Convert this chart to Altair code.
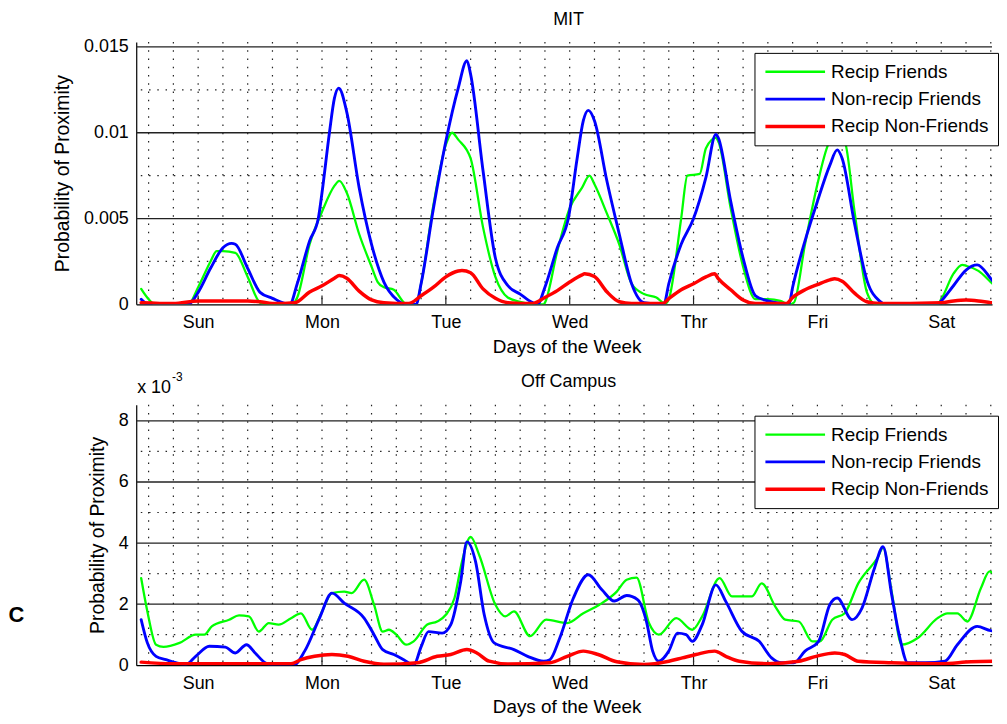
import altair as alt
import pandas as pd

FONT = "Liberation Sans"
DAYS = ["Sun", "Mon", "Tue", "Wed", "Thr", "Fri", "Sat"]
DAY_CENTERS = [0.5, 1.5, 2.5, 3.5, 4.5, 5.5, 6.5]
GRID_DAYS = [0.1, 0.3, 0.5, 0.7, 0.9, 1.1, 1.3, 1.5, 1.7, 1.9, 2.1, 2.3, 2.5, 2.7, 2.9,
             3.1, 3.3, 3.5, 3.7, 3.9, 4.1, 4.3, 4.5, 4.7, 4.9, 5.1, 5.3, 5.5, 5.7, 5.9,
             6.1, 6.3, 6.5, 6.7, 6.9]
SERIES = ["Recip Friends", "Non-recip Friends", "Recip Non-Friends"]
COLORS = ["#00ff00", "#0000ff", "#ff0000"]
WIDTHS = [2.3, 3.5, 3.1]

MIT_MAJOR = [0.005, 0.01, 0.015]
MIT_MINOR = [0.0025, 0.0075, 0.0125]
MIT_TICKS = [0, 0.005, 0.01, 0.015]
OFF_MAJOR = [2, 4, 6, 8]
OFF_MINOR = [1, 3, 5, 7]
OFF_TICKS = [0, 2, 4, 6, 8]

# MIT panel, values in units of 1e-3
MIT_GREEN_DAY = [0.04, 0.1, 0.15, 0.42, 0.5, 0.6, 0.65, 0.7, 0.8, 0.9, 1.0, 1.05, 1.25, 1.3, 1.4,
                 1.5, 1.6, 1.64, 1.7, 1.8, 1.9, 1.95, 2.0, 2.08, 2.15, 2.18, 2.26, 2.3, 2.4, 2.5,
                 2.55, 2.6, 2.7, 2.8, 2.9, 3.0, 3.1, 3.2, 3.29, 3.3, 3.4, 3.5, 3.6, 3.66, 3.7,
                 3.8, 3.9, 4.0, 4.1, 4.2, 4.27, 4.3, 4.4, 4.45, 4.55, 4.6, 4.68, 4.7, 4.8, 4.9,
                 5.0, 5.1, 5.2, 5.27, 5.31, 5.4, 5.5, 5.6, 5.66, 5.72, 5.8, 5.9, 5.97, 6.47, 6.5,
                 6.6, 6.67, 6.7, 6.8, 6.9, 7.0]
MIT_GREEN_VAL = [0.9, 0.3, 0.0, 0.0, 1.0, 2.5, 3.1, 3.1, 3.0, 1.6, 0.1, 0.0, 0.0, 0.4, 3.5,
                 5.4, 6.9, 7.2, 6.5, 4.1, 2.2, 1.3, 1.0, 0.85, 0.2, 0.0, 0.0, 1.2, 5.8, 9.3,
                 10.0, 9.6, 8.5, 4.5, 1.6, 0.4, 0.15, 0.0, 0.0, 0.1, 3.1, 5.6, 6.8, 7.5, 7.0,
                 5.3, 3.5, 1.2, 0.6, 0.4, 0.05, 0.3, 5.0, 7.5, 7.6, 9.1, 9.7, 9.5, 5.6, 2.2,
                 0.3, 0.3, 0.2, 0.0, 0.1, 3.5, 7.0, 9.5, 9.8, 9.5, 5.4, 0.7, 0.0, 0.0, 0.3,
                 1.8, 2.3, 2.25, 1.95, 1.3, 0.6]
MIT_BLUE_DAY = [0.04, 0.1, 0.42, 0.5, 0.6, 0.7, 0.77, 0.8, 0.9, 1.0, 1.1, 1.2, 1.24, 1.3, 1.4,
                1.47, 1.5, 1.56, 1.6, 1.635, 1.7, 1.8, 1.9, 2.0, 2.1, 2.18, 2.26, 2.3, 2.4, 2.5,
                2.6, 2.67, 2.7, 2.8, 2.9, 3.0, 3.1, 3.2, 3.24, 3.3, 3.4, 3.49, 3.56, 3.61, 3.65,
                3.7, 3.8, 3.9, 4.0, 4.1, 4.26, 4.3, 4.4, 4.5, 4.6, 4.68, 4.7, 4.8, 4.9, 5.0,
                5.1, 5.2, 5.27, 5.3, 5.4, 5.5, 5.6, 5.66, 5.7, 5.8, 5.9, 6.0, 6.05, 6.47, 6.5,
                6.6, 6.7, 6.79, 6.9, 7.0]
MIT_BLUE_VAL = [0.3, 0.0, 0.0, 0.7, 2.1, 3.3, 3.55, 3.5, 2.1, 0.7, 0.35, 0.05, 0.0, 1.2, 3.7,
                5.0, 6.5, 10.0, 12.0, 12.6, 11.2, 6.8, 3.5, 1.3, 0.3, 0.0, 0.0, 1.2, 5.6, 9.5,
                12.6, 14.2, 13.4, 7.8, 2.7, 1.1, 0.6, 0.1, 0.0, 1.0, 3.3, 5.05, 8.5, 10.7, 11.3,
                10.7, 7.2, 4.1, 1.2, 0.1, 0.0, 1.2, 3.5, 5.0, 7.4, 9.9, 9.7, 6.0, 2.7, 0.5,
                0.2, 0.05, 0.0, 1.0, 3.7, 6.0, 8.1, 9.0, 8.5, 4.7, 1.4, 0.2, 0.0, 0.0, 0.2,
                1.1, 2.0, 2.3, 1.5, 0.5]
MIT_RED_DAY = [0.04, 0.3, 0.5, 0.9, 1.0, 1.1, 1.28, 1.4, 1.5, 1.6, 1.64, 1.7, 1.8, 1.9, 2.0,
               2.2, 2.3, 2.4, 2.5, 2.6, 2.63, 2.7, 2.8, 2.9, 3.0, 3.2, 3.3, 3.4, 3.5, 3.6,
               3.62, 3.7, 3.8, 3.9, 4.0, 4.25, 4.3, 4.4, 4.5, 4.6, 4.67, 4.7, 4.8, 4.9, 5.0,
               5.25, 5.3, 5.4, 5.5, 5.6, 5.64, 5.7, 5.8, 5.9, 6.0, 6.5, 6.6, 6.7, 6.8, 6.9, 7.0]
MIT_RED_VAL = [0.1, 0.05, 0.2, 0.2, 0.15, 0.05, 0.1, 0.72, 1.08, 1.52, 1.68, 1.52, 0.77, 0.26, 0.1,
               0.05, 0.5, 1.0, 1.6, 1.94, 1.97, 1.84, 0.9, 0.35, 0.1, 0.05, 0.4, 0.8, 1.3, 1.72,
               1.78, 1.62, 0.73, 0.15, 0.05, 0.05, 0.33, 0.85, 1.2, 1.6, 1.78, 1.5, 0.85, 0.25, 0.05,
               0.05, 0.4, 0.85, 1.15, 1.43, 1.49, 1.35, 0.65, 0.15, 0.05, 0.1, 0.2, 0.25, 0.2, 0.1, 0.05]

# Off Campus panel, values in units of 1e-3
OFF_GREEN_DAY = [0.04, 0.09, 0.16, 0.22, 0.35, 0.48, 0.55, 0.61, 0.75, 0.83, 0.91, 0.99, 1.07, 1.15,
                 1.25, 1.33, 1.42, 1.5, 1.58, 1.68, 1.74, 1.84, 1.92, 1.99, 2.04, 2.1, 2.18, 2.24,
                 2.35, 2.43, 2.5, 2.57, 2.63, 2.7, 2.77, 2.9, 2.98, 3.05, 3.18, 3.31, 3.48, 3.61,
                 3.74, 3.88, 3.96, 4.04, 4.14, 4.22, 4.36, 4.49, 4.57, 4.71, 4.81, 4.97, 5.05, 5.16,
                 5.24, 5.35, 5.46, 5.52, 5.62, 5.72, 5.83, 5.99, 6.03, 6.1, 6.18, 6.31, 6.47, 6.55,
                 6.63, 6.71, 6.82, 6.89, 6.95, 7.0]
OFF_GREEN_VAL = [2.85, 1.76, 0.67, 0.6, 0.73, 1.0, 1.0, 1.27, 1.49, 1.63, 1.6, 1.1, 1.38, 1.33,
                 1.54, 1.7, 1.16, 1.76, 2.36, 2.41, 2.36, 2.8, 1.98, 1.1, 1.16, 1.0, 0.67, 0.78,
                 1.33, 1.43, 1.65, 2.2, 3.39, 4.2, 3.6, 1.98, 1.6, 1.76, 0.95, 1.49, 1.38, 1.7,
                 1.98, 2.41, 2.8, 2.87, 1.38, 1.0, 1.54, 1.16, 1.6, 2.85, 2.25, 2.25, 2.68, 1.92,
                 1.49, 1.43, 0.78, 0.78, 1.49, 1.7, 2.68, 3.55, 3.85, 2.4, 0.67, 0.89, 1.54, 1.7,
                 1.7, 1.43, 2.52, 3.07, 2.74, 1.9]
OFF_BLUE_DAY = [0.04, 0.09, 0.16, 0.24, 0.32, 0.4, 0.48, 0.59, 0.72, 0.8, 0.89, 0.96, 1.04, 1.1,
                1.27, 1.36, 1.48, 1.58, 1.68, 1.84, 1.92, 1.99, 2.08, 2.16, 2.24, 2.3, 2.36, 2.47,
                2.54, 2.62, 2.67, 2.74, 2.81, 2.89, 3.05, 3.16, 3.29, 3.34, 3.42, 3.53, 3.65, 3.76,
                3.86, 3.96, 4.05, 4.12, 4.17, 4.22, 4.3, 4.37, 4.44, 4.49, 4.57, 4.68, 4.76, 4.89,
                5.03, 5.13, 5.21, 5.31, 5.4, 5.51, 5.6, 5.66, 5.78, 5.86, 5.96, 6.03, 6.1, 6.16,
                6.23, 6.37, 6.53, 6.63, 6.79, 6.9, 7.0]
OFF_BLUE_VAL = [1.49, 0.73, 0.29, 0.18, 0.08, 0.02, 0.29, 0.62, 0.59, 0.4, 0.67, 0.4, 0.08, 0.0,
                0.0, 0.46, 1.54, 2.36, 2.03, 1.54, 1.0, 0.51, 0.35, 0.18, 0.0, 0.6, 1.1, 1.05,
                1.33, 2.74, 4.04, 3.39, 1.65, 0.73, 0.51, 0.29, 0.13, 0.18, 0.89, 2.2, 2.96, 2.47,
                2.1, 2.28, 2.14, 1.43, 0.46, 0.13, 0.46, 1.05, 1.0, 0.78, 1.33, 2.63, 2.09, 1.11,
                0.78, 0.24, 0.08, 0.08, 0.46, 0.78, 1.98, 2.2, 1.49, 1.87, 3.17, 3.88, 2.3, 1.0,
                0.08, 0.08, 0.13, 0.67, 1.27, 1.13, 1.1]
OFF_RED_DAY = [0.04, 0.3, 1.25, 1.33, 1.44, 1.58, 1.71, 1.84, 2.0, 2.27, 2.43, 2.54, 2.67, 2.75,
               2.85, 3.0, 3.34, 3.48, 3.61, 3.73, 3.88, 4.1, 4.3, 4.41, 4.52, 4.67, 4.76, 4.87,
               5.1, 5.35, 5.49, 5.64, 5.72, 5.83, 6.1, 6.5, 6.74, 7.0]
OFF_RED_VAL = [0.1, 0.05, 0.05, 0.18, 0.29, 0.35, 0.29, 0.13, 0.03, 0.08, 0.29, 0.35, 0.51, 0.4,
               0.13, 0.04, 0.08, 0.29, 0.46, 0.35, 0.11, 0.02, 0.13, 0.24, 0.35, 0.46, 0.29, 0.13,
               0.05, 0.13, 0.29, 0.4, 0.35, 0.13, 0.08, 0.05, 0.11, 0.13]

TITLES = ["MIT", "Off Campus"]
X_TITLE = "Days of the Week"
Y_TITLE = "Probability of Proximity"
EXP_BASE = ["x 10"]
EXP_POWER = ["-3"]
PANEL_LETTER = ["C"]

W = 861
H_TOP = 264
H_BOT = 262
X_DOMAIN = [0, 861 / 124.6]


def series_frame(days, vals, name, factor):
    return pd.DataFrame({"day": days, "value": [v * factor for v in vals], "series": name})


label_expr = "[" + ",".join("'%s'" % d for d in DAYS) + "][floor(datum.value)]"


def text_layer(texts, x, y, size, weight="normal", align="center"):
    return alt.Chart(pd.DataFrame({"t": texts})).mark_text(
        align=align, baseline="middle", fontSize=size, fontWeight=weight, font=FONT,
        color="black").encode(text="t:N", x=alt.value(x), y=alt.value(y))


def panel(frames, y_domain, y_ticks, y_major, y_minor, y_format, height, title, extra=None):
    xs = alt.Scale(domain=X_DOMAIN, nice=False, zero=False)
    ys = alt.Scale(domain=y_domain, nice=False, zero=False)
    x_axis = alt.Axis(values=DAY_CENTERS, labelExpr=label_expr, ticks=False, grid=False,
                      title=X_TITLE, labelPadding=9, titlePadding=6, titleFontSize=19,
                      titleX=433)
    y_axis = alt.Axis(values=y_ticks, format=y_format, ticks=False, grid=False,
                      title=Y_TITLE, labelPadding=8, titlePadding=11, titleFontSize=19.5)
    X = alt.X("day:Q", scale=xs, axis=x_axis)
    Y = alt.Y("value:Q", scale=ys, axis=y_axis)

    vgrid = alt.Chart(pd.DataFrame({"day": GRID_DAYS})).mark_rule(
        color="#222222", strokeWidth=1.2, strokeDash=[1.5, 6.8]).encode(x=X)
    hminor = alt.Chart(pd.DataFrame({"value": y_minor})).mark_rule(
        color="#222222", strokeWidth=1.2, strokeDash=[1.5, 6.8]).encode(y=Y)
    hmajor = alt.Chart(pd.DataFrame({"value": y_major})).mark_rule(
        color="#222222", strokeWidth=1.3).encode(y=Y)
    xticks = alt.Chart(pd.DataFrame({"day": DAY_CENTERS})).mark_rule(
        color="#222222", strokeWidth=1.2).encode(
        x=X, y=alt.value(height), y2=alt.value(height - 9))

    layers = [vgrid, hminor, hmajor, xticks]
    for i, df in enumerate(frames):
        legend = None
        if i == 0:
            legend = alt.Legend(title=None, orient="none", legendX=622, legendY=11,
                                fillColor="white", strokeColor="black", padding=9,
                                symbolType="stroke", symbolSize=3600, symbolStrokeWidth=3,
                                labelFontSize=19, labelFont=FONT, labelColor="black",
                                labelOffset=4, rowPadding=7.5, clipHeight=20,
                                cornerRadius=0)
        line = alt.Chart(df).mark_line(clip=True, strokeJoin="round", strokeCap="round",
                                       interpolate="monotone").encode(
            x=X, y=Y,
            color=alt.Color("series:N", scale=alt.Scale(domain=SERIES, range=COLORS),
                            legend=legend),
            strokeWidth=alt.StrokeWidth("series:N",
                                        scale=alt.Scale(domain=SERIES, range=WIDTHS),
                                        legend=None),
            order=alt.Order("day:Q"),
        )
        layers.append(line)
    layers.append(text_layer([title], 435, -22.5, 18))
    if extra:
        layers.extend(extra)
    return alt.layer(*layers).properties(width=W, height=height)


mit_frames = [
    series_frame(MIT_GREEN_DAY, MIT_GREEN_VAL, SERIES[0], 1e-3),
    series_frame(MIT_BLUE_DAY, MIT_BLUE_VAL, SERIES[1], 1e-3),
    series_frame(MIT_RED_DAY, MIT_RED_VAL, SERIES[2], 1e-3),
]
off_frames = [
    series_frame(OFF_GREEN_DAY, OFF_GREEN_VAL, SERIES[0], 1.0),
    series_frame(OFF_BLUE_DAY, OFF_BLUE_VAL, SERIES[1], 1.0),
    series_frame(OFF_RED_DAY, OFF_RED_VAL, SERIES[2], 1.0),
]

extras = [
    text_layer(EXP_BASE, 1, -17, 18, align="left"),
    text_layer(EXP_POWER, 36, -28, 12, align="left"),
    text_layer(PANEL_LETTER, -120.5, 212, 22, weight="bold"),
]

top = panel(mit_frames, [0, 0.01529], MIT_TICKS, MIT_MAJOR, MIT_MINOR, "~g", H_TOP, TITLES[0])
bottom = panel(off_frames, [0, 8.53], OFF_TICKS, OFF_MAJOR, OFF_MINOR, "d", H_BOT, TITLES[1],
               extra=extras)

chart = alt.vconcat(top, bottom, spacing=101, bounds="flush").resolve_scale(
    x="independent", y="independent", color="independent", strokeWidth="independent"
).resolve_legend(color="independent", strokeWidth="independent").properties(
    padding={"left": 0, "top": 0, "right": 0, "bottom": 0}
).configure(font=FONT).configure_view(stroke=None).configure_axis(
    labelFont=FONT, titleFont=FONT, labelFontSize=18, titleFontSize=19,
    titleFontWeight="normal", labelColor="black", titleColor="black",
    domainColor="black", domainWidth=1.2
)

chart.save("out.html", embed_options={"renderer": "svg", "actions": False})
